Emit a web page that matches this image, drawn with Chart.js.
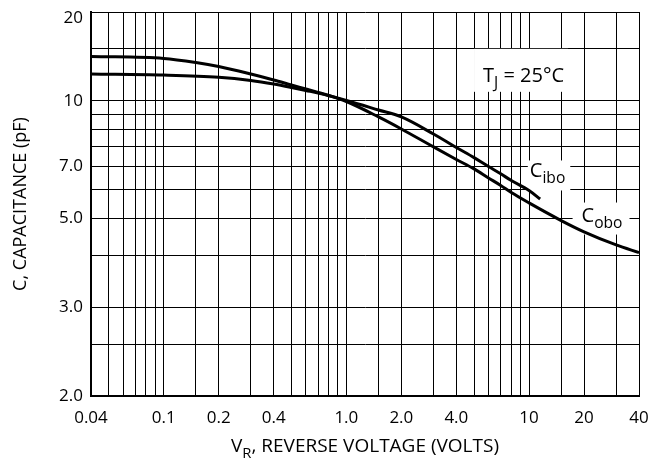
<!DOCTYPE html>
<html>
<head>
<meta charset="utf-8">
<script src="https://cdn.jsdelivr.net/npm/chart.js@4.4.1/dist/chart.umd.min.js"></script>
<style>
  html, body { margin: 0; padding: 0; background: #fff; }
</style>
</head>
<body>
<canvas id="capChart" width="648" height="462"></canvas>
<script>
// Cobo curve: reverse voltage (V) and capacitance (pF, on the printed log grid)
const vrObo = [0.04, 0.1, 0.15, 0.2, 0.3, 0.4, 0.5, 0.6, 0.7, 0.8, 1.0, 1.5, 2.0, 3.0, 4.0, 5.0, 6.0, 7.0, 8.0, 10, 15, 20, 30, 40];
const cObo = [14.14, 13.92, 13.49, 13.08, 12.33, 11.77, 11.32, 10.97, 10.68, 10.43, 9.95, 8.82, 8.03, 6.98, 6.33, 5.88, 5.48, 5.17, 4.89, 4.51, 3.93, 3.6, 3.25, 3.06];

// Cibo curve stops near 11 V
const vrIbo = [0.04, 0.1, 0.2, 0.3, 0.4, 0.5, 0.6, 0.7, 1.0, 1.5, 2.0, 3.0, 4.0, 5.0, 6.0, 7.0, 8.0, 10, 11.5];
const cIbo = [12.33, 12.23, 12.02, 11.72, 11.4, 11.1, 10.84, 10.63, 10.03, 9.31, 8.82, 7.72, 6.95, 6.42, 5.99, 5.66, 5.37, 4.97, 4.65];

// grid lines and the labels printed next to them
const xGrid = [0.04, 0.05, 0.06, 0.07, 0.08, 0.09, 0.1, 0.15, 0.2, 0.3, 0.4, 0.5, 0.6, 0.7, 0.8, 0.9, 1, 1.5, 2, 3, 4, 5, 6, 7, 8, 9, 10, 15, 20, 30, 40];
const xLabels = ['0.04', '', '', '', '', '', '0.1', '', '0.2', '', '0.4', '', '', '', '', '', '1.0', '', '2.0', '', '4.0', '', '', '', '', '', '10', '', '20', '', '40'];
const yGrid = [1, 1.5, 2, 3, 4, 5, 6, 7, 8, 9, 10, 15, 20];
const yLabels = ['2.0', '', '3.0', '', '5.0', '', '7.0', '', '', '', '10', '', '20'];

const FONT = '"Open Sans", "Noto Sans", sans-serif';

// text with subscripts, drawn from left baseline
function richWidth(ctx, parts, size) {
    let w = 0;
    parts.forEach(p => {
        ctx.font = (p.sub ? size * 0.78 : size) + 'px ' + FONT;
        w += ctx.measureText(p.t).width;
    });
    return w;
}
function drawRich(ctx, x, y, parts, size) {
    let cx = x;
    parts.forEach(p => {
        ctx.font = (p.sub ? size * 0.78 : size) + 'px ' + FONT;
        ctx.fillText(p.t, cx, y + (p.sub ? size * 0.3 : 0));
        cx += ctx.measureText(p.t).width;
    });
}

// curve labels, anchored in axis units; box = white pad left, right, above, below
const notes = [
    { parts: [{ t: 'T' }, { t: 'J', sub: true }, { t: ' = 25°C' }], x: 5.6, y: 11.6, box: [9, 4, 33, 10] },
    { parts: [{ t: 'C' }, { t: 'ibo', sub: true }], x: 10.1, y: 5.5, box: [2, 5, 17, 13] },
    { parts: [{ t: 'C' }, { t: 'obo', sub: true }], x: 19.4, y: 3.9, box: [9, 7, 19, 13] }
];

const notesPlugin = {
    id: 'notes',
    beforeDatasetsDraw(chart) {
        const { ctx, scales } = chart;
        ctx.save();
        ctx.textBaseline = 'alphabetic';
        ctx.textAlign = 'left';
        notes.forEach(n => {
            const px = scales.x.getPixelForValue(n.x);
            const py = scales.y.getPixelForValue(n.y);
            const w = richWidth(ctx, n.parts, 20);
            const [l, r, t, b] = n.box;
            ctx.fillStyle = '#fff';
            ctx.fillRect(px - l, py - t, w + l + r, t + b);
            ctx.fillStyle = '#000';
            drawRich(ctx, px, py, n.parts, 20);
        });
        ctx.restore();
    },
    afterDraw(chart) {
        const { ctx, chartArea } = chart;
        const parts = [{ t: 'V' }, { t: 'R', sub: true }, { t: ', REVERSE VOLTAGE (VOLTS)' }];
        ctx.save();
        ctx.fillStyle = '#000';
        ctx.textBaseline = 'alphabetic';
        ctx.textAlign = 'left';
        const w = richWidth(ctx, parts, 19);
        drawRich(ctx, (chartArea.left + chartArea.right) / 2 - w / 2, 452, parts, 19);
        ctx.restore();
    }
};

const curveStyle = {
    borderColor: '#000',
    borderWidth: 3,
    pointRadius: 0,
    fill: false,
    cubicInterpolationMode: 'monotone'
};

new Chart(document.getElementById('capChart'), {
    type: 'line',
    data: {
        datasets: [
            { label: 'Cobo', data: vrObo.map((v, i) => ({ x: v, y: cObo[i] })), ...curveStyle },
            { label: 'Cibo', data: vrIbo.map((v, i) => ({ x: v, y: cIbo[i] })), ...curveStyle }
        ]
    },
    options: {
        responsive: false,
        animation: false,
        devicePixelRatio: 1,
        layout: { padding: { top: 12, right: 9, left: 0, bottom: 0 } },
        plugins: { legend: { display: false }, tooltip: { enabled: false } },
        scales: {
            x: {
                type: 'logarithmic',
                min: 0.04,
                max: 40,
                afterBuildTicks: s => { s.ticks = xGrid.map(v => ({ value: v })); },
                afterFit: s => { s.height = 66; s.paddingLeft = 0; s.paddingRight = 0; },
                ticks: {
                    autoSkip: false,
                    maxRotation: 0,
                    padding: 12,
                    color: '#000',
                    font: { family: FONT, size: 17 },
                    callback: (v, i) => xLabels[i]
                },
                grid: { color: '#000', lineWidth: 1, drawTicks: false },
                border: { color: '#000', width: 2 }
            },
            y: {
                type: 'logarithmic',
                min: 1,
                max: 20,
                afterBuildTicks: s => { s.ticks = yGrid.map(v => ({ value: v })); },
                afterFit: s => { s.width = 91; s.paddingTop = 0; s.paddingBottom = 0; },
                ticks: {
                    autoSkip: false,
                    padding: 8,
                    color: '#000',
                    font: { family: FONT, size: 17, lineHeight: 0.7 },
                    // top label sits a little below its line, as printed
                    callback: (v, i) => i === yGrid.length - 1 ? ['', yLabels[i]] : yLabels[i]
                },
                grid: { color: '#000', lineWidth: 1, drawTicks: false },
                border: { color: '#000', width: 2 },
                title: {
                    display: true,
                    text: 'C, CAPACITANCE (pF)',
                    color: '#000',
                    font: { family: FONT, size: 18 },
                    padding: { top: 10, bottom: 0 }
                }
            }
        }
    },
    plugins: [notesPlugin]
});
</script>
</body>
</html>
